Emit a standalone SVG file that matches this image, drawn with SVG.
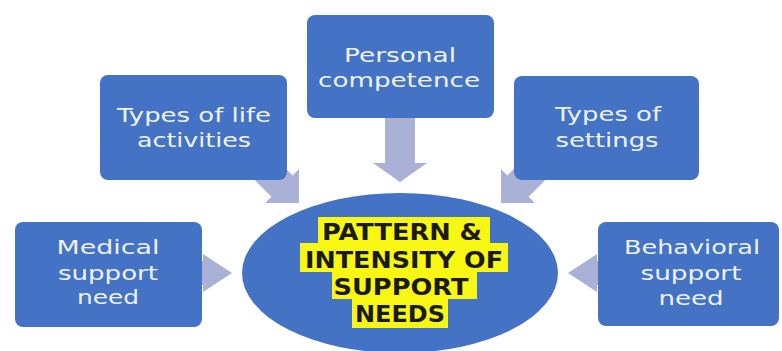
<svg xmlns="http://www.w3.org/2000/svg" width="782" height="351" viewBox="0 0 782 351">
  <style>
    .box { fill: #4472c4; }
    .arrow { fill: #a9b2d6; }
    .lbl { font-family: "DejaVu Sans", "Open Sans", sans-serif; font-size: 20px; fill: #eef2fb; text-anchor: middle; }
    .hl { fill: #f8f714; }
    .core { font-family: "DejaVu Sans", "Liberation Sans", sans-serif; font-size: 23px; font-weight: bold; fill: #1b1a12; text-anchor: middle; }
  </style>

  <rect width="782" height="351" fill="#ffffff"/>

  <!-- connectors: block arrows pointing at the central ellipse -->
  <g id="connectors">
    <polygon class="arrow" points="385,110 415,110 415,163 427,163 400,182 373,163 385,163"/>
    <polygon class="arrow" transform="translate(299,203) rotate(45)" points="0,0 -24,24 -24,15 -90,15 -90,-15 -24,-15 -24,-24"/>
    <polygon class="arrow" transform="translate(501,203) rotate(135)" points="0,0 -24,24 -24,15 -90,15 -90,-15 -24,-15 -24,-24"/>
    <polygon class="arrow" transform="translate(232,273)" points="0,0 -29,19 -29,12 -60,12 -60,-12 -29,-12 -29,-19"/>
    <polygon class="arrow" transform="translate(568,273) rotate(180)" points="0,0 -29,19 -29,12 -60,12 -60,-12 -29,-12 -29,-19"/>
  </g>

  <g id="personal-competence">
    <rect class="box" x="307" y="15" width="187" height="103" rx="8"/>
    <text class="lbl" x="400" y="62" textLength="112" lengthAdjust="spacingAndGlyphs">Personal</text>
    <text class="lbl" x="399" y="87" textLength="162" lengthAdjust="spacingAndGlyphs">competence</text>
  </g>

  <g id="life-activities">
    <rect class="box" x="100" y="75" width="187" height="105" rx="8"/>
    <text class="lbl" x="194" y="122" textLength="154" lengthAdjust="spacingAndGlyphs">Types of life</text>
    <text class="lbl" x="194" y="147" textLength="114" lengthAdjust="spacingAndGlyphs">activities</text>
  </g>

  <g id="settings">
    <rect class="box" x="514" y="76" width="185" height="104" rx="8"/>
    <text class="lbl" x="608" y="121" textLength="106" lengthAdjust="spacingAndGlyphs">Types of</text>
    <text class="lbl" x="607" y="147" textLength="103" lengthAdjust="spacingAndGlyphs">settings</text>
  </g>

  <g id="medical">
    <rect class="box" x="15" y="222" width="187" height="105" rx="8"/>
    <text class="lbl" x="108" y="254" textLength="103" lengthAdjust="spacingAndGlyphs">Medical</text>
    <text class="lbl" x="108" y="280" textLength="100" lengthAdjust="spacingAndGlyphs">support</text>
    <text class="lbl" x="108" y="304" textLength="62" lengthAdjust="spacingAndGlyphs">need</text>
  </g>

  <g id="behavioral">
    <rect class="box" x="598" y="222" width="181" height="104" rx="8"/>
    <text class="lbl" x="692" y="254" textLength="136" lengthAdjust="spacingAndGlyphs">Behavioral</text>
    <text class="lbl" x="691" y="280" textLength="101" lengthAdjust="spacingAndGlyphs">support</text>
    <text class="lbl" x="691" y="305" textLength="65" lengthAdjust="spacingAndGlyphs">need</text>
  </g>

  <g id="support-needs">
    <ellipse class="box" cx="400" cy="273" rx="158" ry="80"/>
    <rect class="hl" x="318" y="217" width="172" height="27"/>
    <rect class="hl" x="300" y="243" width="208" height="29"/>
    <rect class="hl" x="332" y="271" width="145" height="28"/>
    <rect class="hl" x="352" y="298" width="96" height="30"/>
    <text class="core" x="402" y="240" textLength="160" lengthAdjust="spacingAndGlyphs">PATTERN &amp;</text>
    <text class="core" x="404" y="268" textLength="198" lengthAdjust="spacingAndGlyphs">INTENSITY OF</text>
    <text class="core" x="401" y="295" textLength="135" lengthAdjust="spacingAndGlyphs">SUPPORT</text>
    <text class="core" x="400" y="322" textLength="90" lengthAdjust="spacingAndGlyphs">NEEDS</text>
  </g>
</svg>
